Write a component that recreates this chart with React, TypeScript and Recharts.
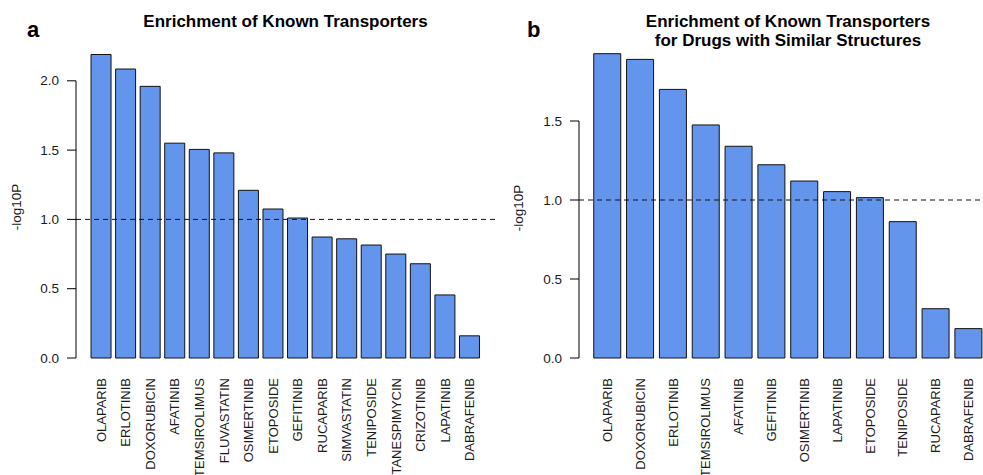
import { BarChart, Bar, XAxis, YAxis, ReferenceLine } from "recharts";

const FONT = "'Liberation Sans', Arial, Helvetica, sans-serif";
const INK = "#1a1a1a";
const BLUE = "#6495ED";

// panel a
const DRUGS_A = [
  "OLAPARIB", "ERLOTINIB", "DOXORUBICIN", "AFATINIB", "TEMSIROLIMUS", "FLUVASTATIN",
  "OSIMERTINIB", "ETOPOSIDE", "GEFITINIB", "RUCAPARIB", "SIMVASTATIN", "TENIPOSIDE",
  "TANESPIMYCIN", "CRIZOTINIB", "LAPATINIB", "DABRAFENIB",
];
const LOGP_A = [2.19, 2.085, 1.96, 1.55, 1.505, 1.48, 1.21, 1.075, 1.01, 0.873, 0.86, 0.815, 0.75, 0.68, 0.455, 0.16];
const TICKS_A = [0, 0.5, 1, 1.5, 2];

// panel b
const DRUGS_B = [
  "OLAPARIB", "DOXORUBICIN", "ERLOTINIB", "TEMSIROLIMUS", "AFATINIB", "GEFITINIB",
  "OSIMERTINIB", "LAPATINIB", "ETOPOSIDE", "TENIPOSIDE", "RUCAPARIB", "DABRAFENIB",
];
const LOGP_B = [1.926, 1.89, 1.7, 1.475, 1.34, 1.223, 1.12, 1.053, 1.015, 0.863, 0.312, 0.186];
const TICKS_B = [0, 0.5, 1, 1.5];

const THRESHOLD = 1;

const CHART_H = 475;
const TOP = 42;
const X_AXIS_H = 117;
const PLOT_H = CHART_H - TOP - X_AXIS_H;

function YTick(props: any) {
  const { x, y, payload, domainMax, topTick } = props;
  const ax = x + 17;
  const v = payload.value;
  return (
    <g>
      <line x1={ax - 9} x2={ax} y1={y} y2={y} stroke="#000" strokeWidth={1} />
      {v === 0 && (
        <line x1={ax} x2={ax} y1={y} y2={y - (topTick / domainMax) * PLOT_H} stroke="#000" strokeWidth={1} />
      )}
      <text x={x} y={y} textAnchor="end" dominantBaseline="central" fontSize={13.5} fill={INK} fontFamily={FONT}>
        {v.toFixed(1)}
      </text>
    </g>
  );
}

function XTick(props: any) {
  const { x, y, payload } = props;
  return (
    <text
      x={x}
      y={y}
      transform={`rotate(-90 ${x} ${y})`}
      textAnchor="end"
      dominantBaseline="central"
      fontSize={13}
      fill={INK}
      fontFamily={FONT}
    >
      {payload.value}
    </text>
  );
}

function Panel({ names, values, ticks, domainMax, left, width, right, pad }: any) {
  const data = names.map((name: string, i: number) => ({ name, v: values[i] }));
  return (
    <div style={{ position: "absolute", left, top: 0 }}>
      <BarChart
        width={width}
        height={CHART_H}
        data={data}
        margin={{ top: TOP, right, bottom: 0, left: 0 }}
        barCategoryGap="8.33%"
      >
        <XAxis
          dataKey="name"
          interval={0}
          height={X_AXIS_H}
          axisLine={false}
          tickLine={false}
          tickSize={0}
          tickMargin={20}
          padding={{ left: pad, right: pad }}
          tick={<XTick />}
        />
        <YAxis
          type="number"
          domain={[0, domainMax]}
          ticks={ticks}
          width={76}
          axisLine={false}
          tickLine={false}
          tickSize={9}
          tickMargin={8}
          tick={<YTick domainMax={domainMax} topTick={ticks[ticks.length - 1]} />}
        />
        <Bar dataKey="v" fill={BLUE} stroke="#111" strokeWidth={1} isAnimationActive={false} />
        <ReferenceLine y={THRESHOLD} stroke="#111" strokeWidth={1} strokeDasharray="5 4" />
      </BarChart>
    </div>
  );
}

export default function App() {
  return (
    <div
      style={{
        position: "absolute",
        left: 0,
        top: 0,
        width: 983,
        height: 475,
        overflow: "hidden",
        background: "#fff",
        fontFamily: FONT,
      }}
    >
      <Panel names={DRUGS_A} values={LOGP_A} ticks={TICKS_A} domainMax={2.28} left={0} width={510} right={15} pad={13} />
      <Panel names={DRUGS_B} values={LOGP_B} ticks={TICKS_B} domainMax={2.0} left={503} width={500} right={6} pad={12} />
      <svg width={983} height={475} style={{ position: "absolute", left: 0, top: 0, pointerEvents: "none" }}>
        <g fontFamily={FONT} fill="#000">
          <text x={27} y={37} fontSize={22} fontWeight="bold">a</text>
          <text x={527} y={37} fontSize={22} fontWeight="bold">b</text>
          <text x={285.5} y={27} fontSize={17} fontWeight="bold" textAnchor="middle">
            Enrichment of Known Transporters
          </text>
          <text x={788} y={27} fontSize={17} fontWeight="bold" textAnchor="middle">
            Enrichment of Known Transporters
          </text>
          <text x={788} y={46} fontSize={17} fontWeight="bold" textAnchor="middle">
            for Drugs with Similar Structures
          </text>
        </g>
        <g fontFamily={FONT} fill={INK}>
          <text transform="translate(21,207) rotate(-90)" fontSize={13.5} textAnchor="middle">-log10P</text>
          <text transform="translate(523,208) rotate(-90)" fontSize={13.5} textAnchor="middle">-log10P</text>
        </g>
      </svg>
    </div>
  );
}
